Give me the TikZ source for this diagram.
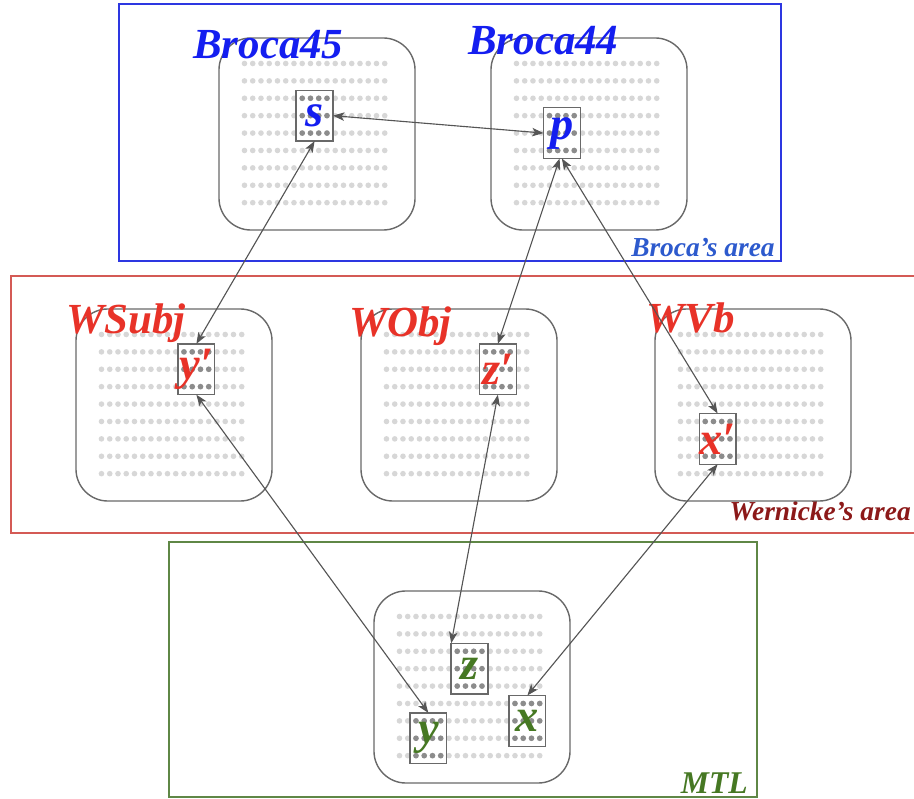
\documentclass[tikz,border=0pt]{standalone}
\usepackage{fontspec}
\setmainfont{Liberation Serif}
\usetikzlibrary{positioning, arrows.meta, calc, backgrounds}

\definecolor{brocablue}{RGB}{20,30,240}
\definecolor{brocaframe}{RGB}{45,55,225}
\definecolor{brocatag}{RGB}{45,90,205}
\definecolor{wernred}{RGB}{232,50,40}
\definecolor{wernframe}{RGB}{212,90,85}
\definecolor{werntag}{RGB}{140,25,25}
\definecolor{mtlgreen}{RGB}{70,120,35}
\definecolor{mtlframe}{RGB}{95,135,70}
\definecolor{panelgray}{RGB}{105,105,105}
\definecolor{arrowgray}{RGB}{85,85,85}
\definecolor{dotlight}{RGB}{215,215,215}
\definecolor{dotdark}{RGB}{140,140,140}

\newcommand{\dotdx}{8.25}
\newcommand{\dotdy}{17.4}
\newcommand{\dotoff}{25.5}

\begin{document}
\begin{tikzpicture}[x=0.025cm, y=-0.025cm]
	% Define styles
	\tikzset{
		areabox/.style={line width=1pt},
		panel/.style={rectangle, draw=panelgray, line width=1pt, rounded corners=0.8cm, minimum width=4.9cm, minimum height=4.8cm, outer sep=0pt},
		cell/.style={rectangle, draw=panelgray, line width=1pt, minimum width=0.92cm, minimum height=1.27cm, inner sep=0pt, outer sep=0pt, font=\fontsize{33}{34}\selectfont\bfseries\itshape},
		tag/.style={inner sep=0pt, anchor=base west, font=\fontsize{30.5}{32}\selectfont\bfseries\itshape},
		areatag/.style={inner sep=0pt, anchor=base east, font=\fontsize{19.5}{21}\selectfont\bfseries\itshape},
		line/.style={draw=arrowgray, line width=0.8pt, {Stealth[length=8pt, width=6pt, inset=2pt]}-{Stealth[length=8pt, width=6pt, inset=2pt]}},
		lightdot/.style={fill=dotlight},
		darkdot/.style={fill=dotdark}
	}
	\useasboundingbox (0,0) rectangle (914,799);
	\clip (0,0) rectangle (914,799);
	
	% Areas
	\draw[areabox, draw=brocaframe] (119,4) rectangle (781,261);
	\draw[areabox, draw=wernframe] (11,276) rectangle (930,533);
	\draw[areabox, draw=mtlframe] (169,542) rectangle (757,797);
	
	\node[areatag, text=brocatag] (brocaname) at (775,257) {Broca’s area};
	\node[areatag, text=werntag] (wernname) at (911,521) {Wernicke’s area};
	\node[areatag, text=mtlgreen, font=\fontsize{22.5}{24}\selectfont\bfseries\itshape] (mtlname) at (748,793) {MTL};
	
	% Panels
	\node[panel] (b45) at (317,134) {};
	\node[panel] (b44) at (589,134) {};
	\node[panel] (wsubj) at (174,405) {};
	\node[panel] (wobj) at (459,405) {};
	\node[panel] (wvb) at (753,405) {};
	\node[panel] (mtl) at (472,687) {};
	
	\node[tag, text=brocablue] (b45name) at (193,59) {Broca45};
	\node[tag, text=brocablue] (b44name) at (468,55) {Broca44};
	\node[tag, text=wernred] (wsubjname) at (66,334) {WSubj};
	\node[tag, text=wernred] (wobjname) at (349,337) {WObj};
	\node[tag, text=wernred] (wvbname) at (646,333) {WVb};
	
	% Cells
	\node[cell, text=brocablue] (s) at ($(b45.north west)+(\dotoff+\dotdx*8.5, \dotoff+\dotdy*3)$) {s};
	\node[cell, text=brocablue] (p) at ($(b44.north west)+(\dotoff+\dotdx*5.5, \dotoff+\dotdy*4)$) {p};
	\node[cell, text=wernred] (ys) at ($(wsubj.north west)+(\dotoff+\dotdx*11.5, \dotoff+\dotdy*2)$) {y′};
	\node[cell, text=wernred] (zs) at ($(wobj.north west)+(\dotoff+\dotdx*13.5, \dotoff+\dotdy*2)$) {z′};
	\node[cell, text=wernred] (xs) at ($(wvb.north west)+(\dotoff+\dotdx*4.5, \dotoff+\dotdy*6)$) {x′};
	\node[cell, text=mtlgreen] (z) at ($(mtl.north west)+(\dotoff+\dotdx*8.5, \dotoff+\dotdy*3)$) {z};
	\node[cell, text=mtlgreen] (x) at ($(mtl.north west)+(\dotoff+\dotdx*15.5, \dotoff+\dotdy*6)$) {x};
	\node[cell, text=mtlgreen] (y) at ($(mtl.north west)+(\dotoff+\dotdx*3.5, \dotoff+\dotdy*7)$) {y};
	
	% Dots
	\begin{pgfonlayer}{background}
		\foreach \p in {b45, b44, wsubj, wobj, wvb, mtl}
			\foreach \i in {0,...,17}
				\foreach \j in {0,...,8}
					\fill[lightdot] ($(\p.north west)+(\dotoff+\dotdx*\i, \dotoff+\dotdy*\j)$) circle (2pt);
		\foreach \c in {s, p, ys, zs, xs, z, x, y}
			\foreach \i in {0,...,3}
				\foreach \j in {0,...,2}
					\fill[darkdot] ($(\c.center)+(\dotdx*\i-1.5*\dotdx, \dotdy*\j-\dotdy)$) circle (2pt);
	\end{pgfonlayer}
	
	% Arrows
	\draw[line] (s.east) -- (p.west);
	\draw[line] (s.south) -- (ys.north);
	\draw[line] (p.265) -- (zs.north);
	\draw[line] (p.south) -- (xs.north);
	\draw[line] (ys.south) -- (y.north);
	\draw[line] (zs.south) -- (z.north west);
	\draw[line] (xs.south) -- (x.north);
	
\end{tikzpicture}
\end{document}
